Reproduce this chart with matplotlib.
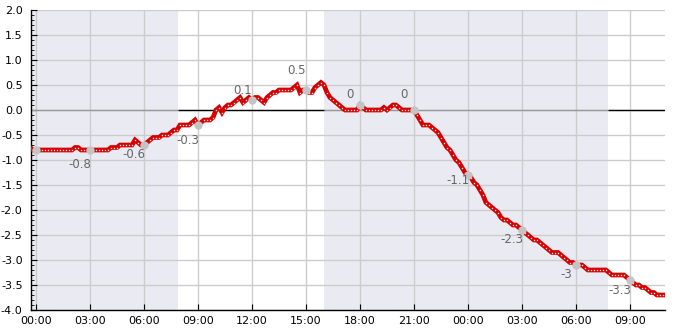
import numpy as np
import matplotlib
matplotlib.use("Agg")
import matplotlib.pyplot as plt
from matplotlib.ticker import MultipleLocator

# readings every 10 minutes, starting 23:30 the day before
start_min = -30
step_min = 10
values = [
    -0.75, -0.75, -0.8,
    -0.8, -0.8, -0.8, -0.8, -0.8, -0.8,        # 00
    -0.8, -0.8, -0.8, -0.8, -0.8, -0.8,        # 01
    -0.8, -0.75, -0.75, -0.8, -0.8, -0.8,      # 02
    -0.8, -0.8, -0.8, -0.8, -0.8, -0.8,        # 03
    -0.8, -0.75, -0.75, -0.75, -0.7, -0.7,     # 04
    -0.7, -0.7, -0.7, -0.6, -0.65, -0.7,       # 05
    -0.7, -0.65, -0.6, -0.55, -0.55, -0.55,    # 06
    -0.5, -0.5, -0.5, -0.45, -0.4, -0.4,       # 07
    -0.3, -0.3, -0.3, -0.3, -0.25, -0.2,       # 08
    -0.3, -0.25, -0.2, -0.2, -0.2, -0.15,      # 09
    0.0, 0.05, -0.05, 0.05, 0.1, 0.1,          # 10
    0.15, 0.2, 0.25, 0.15, 0.2, 0.25,          # 11
    0.2, 0.25, 0.25, 0.2, 0.15, 0.25,          # 12
    0.3, 0.35, 0.35, 0.4, 0.4, 0.4,            # 13
    0.4, 0.4, 0.45, 0.5, 0.35, 0.4,            # 14
    0.4, 0.35, 0.35, 0.45, 0.5, 0.55,          # 15
    0.5, 0.35, 0.25, 0.2, 0.15, 0.1,           # 16
    0.05, 0.0, 0.0, 0.0, 0.0, 0.0,             # 17
    0.1, 0.05, 0.0, 0.0, 0.0, 0.0,             # 18
    0.0, 0.0, 0.05, 0.0, 0.05, 0.1,            # 19
    0.1, 0.05, 0.0, 0.0, 0.0, 0.0,             # 20
    0.0, -0.1, -0.2, -0.3, -0.3, -0.3,         # 21
    -0.35, -0.4, -0.45, -0.55, -0.65, -0.75,   # 22
    -0.8, -0.9, -1.0, -1.05, -1.15, -1.25,     # 23
    -1.3, -1.35, -1.45, -1.5, -1.6, -1.7,      # 00
    -1.85, -1.9, -1.95, -2.0, -2.05, -2.15,    # 01
    -2.2, -2.2, -2.25, -2.3, -2.3, -2.35,      # 02
    -2.4, -2.45, -2.5, -2.55, -2.6, -2.6,      # 03
    -2.65, -2.7, -2.75, -2.8, -2.85, -2.85,    # 04
    -2.85, -2.9, -2.95, -3.0, -3.05, -3.05,    # 05
    -3.1, -3.1, -3.1, -3.15, -3.2, -3.2,       # 06
    -3.2, -3.2, -3.2, -3.2, -3.2, -3.25,       # 07
    -3.3, -3.3, -3.3, -3.3, -3.3, -3.35,       # 08
    -3.4, -3.45, -3.5, -3.5, -3.55, -3.55,     # 09
    -3.6, -3.65, -3.65, -3.7, -3.7, -3.7,      # 10
]

# marked points every 3 hours and their labels
mark_hours = [0, 3, 6, 9, 12, 15, 18, 21, 24, 27, 30, 33]
mark_values = [-0.8, -0.8, -0.7, -0.3, 0.2, 0.4, 0.1, 0.0, -1.3, -2.4, -3.1, -3.4]
label_hours = [3, 6, 9, 12, 15, 18, 21, 24, 27, 30, 33]
label_texts = ["-0.8", "-0.6", "-0.3", "0.1", "0.5", "0", "0", "-1.1", "-2.3", "-3", "-3.3"]

# night periods (hours)
night_spans = [(-1.0, 7.9), (16.0, 31.8)]
day_spans = [(7.9, 16.0), (31.8, 36.0)]

tick_hours = list(range(0, 34, 3))
tick_labels = ["00:00", "03:00", "06:00", "09:00", "12:00", "15:00", "18:00",
               "21:00", "00:00", "03:00", "06:00", "09:00"]

hours = (start_min + step_min * np.arange(len(values))) / 60.0

fig = plt.figure(figsize=(6.85, 3.3), dpi=100)
ax = fig.add_axes([31 / 685, 20 / 330, 634 / 685, 300 / 330])

for a, b in night_spans:
    ax.axvspan(a, b, color="#eaeaf2", lw=0, zorder=0)

ax.grid(True, which="major", color="#cccccc", lw=1.0)
ax.set_axisbelow(True)

for a, b in night_spans:
    ax.hlines(0, a, b, color="#999999", lw=1.0, zorder=1)
for a, b in day_spans:
    ax.hlines(0, a, b, color="black", lw=1.0, zorder=1)

# thick red trace with tiny light dots at every reading
ax.plot(hours, values, color="#d40000", lw=3.4, solid_joinstyle="miter", zorder=3)
ax.plot(hours, values, ls="none", marker="s", ms=1.0, mfc="#ffdddd", mec="none", zorder=3.5)

ax.plot(mark_hours, mark_values, "o", color="#c4c4c4", ms=6, mec="none", zorder=4)

lab_vals = [float(t) for t in label_texts]
for h, t, v in zip(label_hours, label_texts, lab_vals):
    y = v + 0.3 if v >= 0 else v - 0.3
    ax.text(h - 0.55, y, t, ha="center", va="center", fontsize=8.5,
            color="#666666", zorder=5)

ax.set_xlim(-0.28, 34.95)
ax.set_ylim(-4.0, 2.0)
ax.set_xticks(tick_hours)
ax.set_xticklabels(tick_labels)
ax.yaxis.set_major_locator(MultipleLocator(0.5))
ax.yaxis.set_minor_locator(MultipleLocator(0.1))
ax.yaxis.set_major_formatter(matplotlib.ticker.FormatStrFormatter("%.1f"))

ax.tick_params(axis="both", which="major", direction="in", length=4,
               labelsize=8, color="black", pad=6)
ax.tick_params(axis="y", which="minor", direction="in", length=2.5)
ax.tick_params(axis="x", which="major", pad=4)

for s in ["top", "right"]:
    ax.spines[s].set_visible(False)
for s in ["left", "bottom"]:
    ax.spines[s].set_color("black")
    ax.spines[s].set_linewidth(1.0)

fig.savefig("out.png", dpi=100)
